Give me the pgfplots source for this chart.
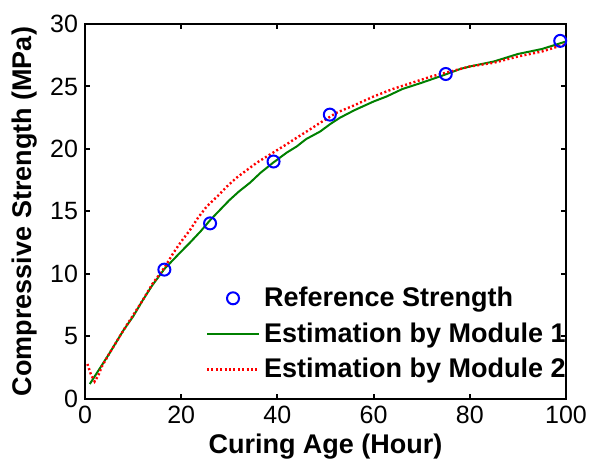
\documentclass[border=0pt]{standalone}
\usepackage{pgfplots}
\pgfplotsset{compat=1.18}
\usepackage{fontspec}
\setmainfont{Liberation Sans}
\definecolor{mgreen}{RGB}{0,128,0}
\pgfplotsset{
  lineleg/.style={legend image code/.code={\draw[##1] (0bp,0bp) -- (26bp,0bp);}},
  markleg/.style={legend image code/.code={\draw[##1] plot coordinates {(13bp,0bp)};}},
}
\begin{document}
\begin{tikzpicture}
\begin{axis}[
  name=ax,
  at={(0,0)}, anchor=south west,
  scale only axis,
  width=240.5bp, height=187.5bp,
  xmin=0, xmax=100, ymin=0, ymax=30,
  xtick={0,20,40,60,80,100},
  ytick={0,5,10,15,20,25,30},
  tick align=inside,
  major tick length=2.5bp,
  axis line style={line width=1bp},
  every tick/.style={black, line width=1bp},
  tick label style={font=\fontsize{12.5bp}{14bp}\selectfont},
  /pgf/number format/assume math mode=true,
  xlabel={\bfseries Curing Age (Hour)},
  ylabel={\bfseries Compressive Strength (MPa)},
  label style={font=\fontsize{13.5bp}{16bp}\selectfont},
  xlabel style={at={(axis description cs:0.5,-0.128)}, anchor=center},
  ylabel style={at={(axis description cs:-0.1247,0.5)}, anchor=center},
  legend style={draw=none, fill=none, font=\fontsize{13.5bp}{16bp}\selectfont\bfseries,
    at={(axis cs:102.1,0.8)}, anchor=south east, row sep=2.5bp, legend cell align=left,
    /tikz/every odd column/.append style={inner xsep=1.5bp}},
  clip=false,
]
\addplot[only marks, mark=o, mark size=3bp, blue, line width=1bp, markleg] coordinates {
(16.5,10.35) (26,14.05) (39.2,19.0) (50.9,22.75) (75.0,26.0) (98.8,28.65)
};
\addlegendentry{Reference Strength}
\addplot[mgreen, line width=1bp, lineleg] coordinates {
(1,1.2) (3,2.4) (5,3.6) (8,5.5) (10,6.6) (12,7.9) (14,9.1) (16.5,10.4) (18,11.0)
(20,11.8) (21.8,12.5) (24,13.4) (26,14.3) (28,15.1) (30,15.9) (32,16.6) (34.3,17.3)
(36.5,18.1) (39.1,18.9) (41.9,19.7) (44,20.2) (46,20.8) (48.9,21.4) (51,22.0) (53,22.5)
(56,23.1) (60,23.8) (62.7,24.2) (66,24.8) (70,25.3) (74.5,25.9) (78,26.4) (80,26.6)
(85,27.0) (90,27.6) (95,28.0) (100,28.6)
};
\addlegendentry{Estimation by Module 1}
\addplot[red, line width=1.2bp, dash pattern=on 1bp off 1.2bp, lineleg] coordinates {
(0.5,2.8) (1.2,2.0) (2,1.4) (2.8,1.9) (3.5,2.6) (5,3.6) (8,5.5) (10,6.7) (12,7.9)
(14,9.2) (16.5,10.5) (18.4,11.7) (20,12.6) (21.8,13.5) (23.5,14.5) (25.3,15.4)
(27.5,16.2) (29.5,17.0) (31.5,17.7) (33.6,18.3) (35.7,18.9) (37.8,19.4) (39.9,19.9)
(42,20.4) (44,20.9) (46.5,21.5) (48.9,22.1) (52.3,22.9) (56,23.5) (60,24.2) (64,24.8)
(68,25.3) (72,25.8) (76,26.2) (80,26.6) (85,26.9) (90,27.4) (95,27.8) (100,28.4)
};
\addlegendentry{Estimation by Module 2}
\end{axis}
\useasboundingbox (ax.south west) ++(-42.5bp,-31.5bp) rectangle ++(303.5bp,231bp);
\end{tikzpicture}
\end{document}
